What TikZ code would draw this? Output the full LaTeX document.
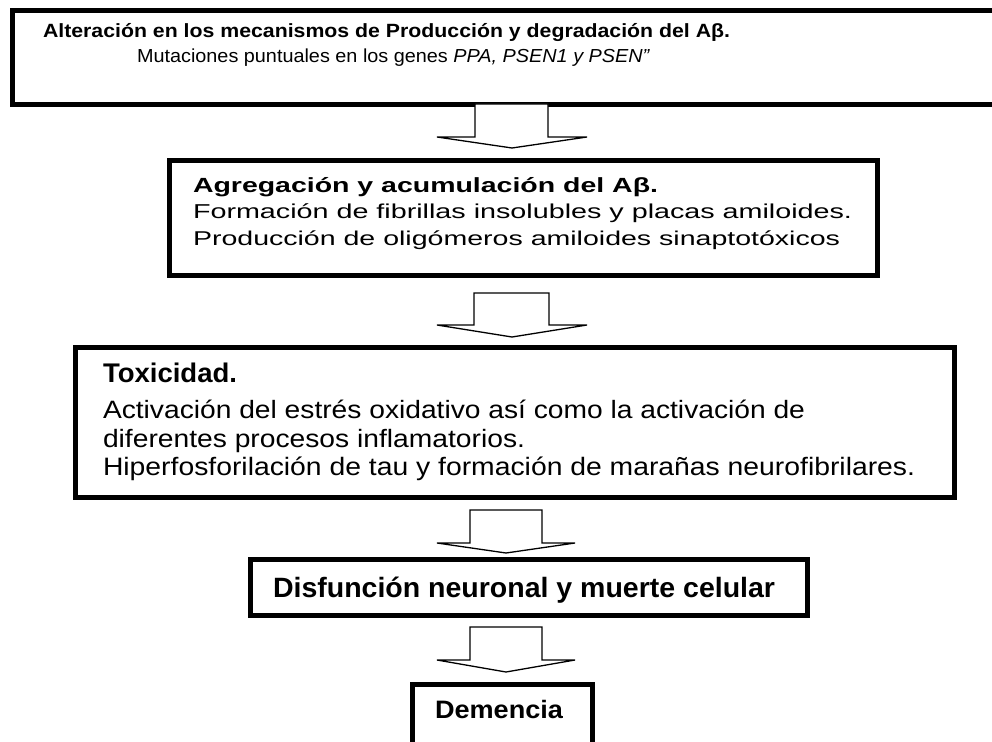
\documentclass[tikz,border=0pt]{standalone}
\usepackage{graphicx}
\usepackage{fontspec}
\setmainfont{Liberation Sans}
\newcommand{\fitline}[3]{\scalebox{1}[#2]{\resizebox{#1}{!}{#3}}}
\begin{document}
\begin{tikzpicture}[x=1pt,y=-1pt,
  box/.style={draw=black,line width=5.5pt,fill=white,rectangle,inner sep=0pt},
  txt/.style={anchor=base west,inner sep=0pt,outer sep=0pt},
  blockarrow/.style={draw=black,line width=1.3pt,fill=white,line join=miter}]
\useasboundingbox (0,0) rectangle (992,741);
\clip (0,0) rectangle (992,741);
\fill[white] (0,0) rectangle (992,741);
% boxes
\node[box,minimum width=987.5pt,minimum height=94pt] (b1) at (506.25,57.5) {};
\node[box,minimum width=708pt,minimum height=115pt] (b2) at (523.5,218) {};
\node[box,minimum width=879pt,minimum height=150pt] (b3) at (515,422.5) {};
\node[box,minimum width=557pt,minimum height=56pt] (b4) at (529,587.5) {};
\node[box,minimum width=180pt,minimum height=85.5pt] (b5) at (502.5,727.25) {};
% block arrows
\draw[blockarrow] (475,104) -- (548,104) -- (548,137) -- (587,137) -- (512,148) -- (437,137) -- (475,137) -- cycle;
\draw[blockarrow] (474,293) -- (549,293) -- (549,325) -- (587,325) -- (512,337) -- (437,325) -- (474,325) -- cycle;
\draw[blockarrow] (470,510) -- (542,510) -- (542,543) -- (575,543) -- (506,553) -- (437,543) -- (470,543) -- cycle;
\draw[blockarrow] (470,627) -- (542,627) -- (542,660) -- (575,660) -- (506,672) -- (437,660) -- (470,660) -- cycle;
% texts
\node[txt] (t1a) at (43,38) {\fitline{687pt}{0.9}{\bfseries Alteración en los mecanismos de Producción y degradación del Aβ.}};
\node[txt] (t1b) at (137,63) {\fitline{513pt}{0.95}{Mutaciones puntuales en los genes \textit{PPA, PSEN1 y PSEN"}}};
\node[txt] (t2a) at (193,192) {\fitline{465pt}{0.72}{\bfseries Agregación y acumulación del Aβ.}};
\node[txt] (t2b) at (193,218) {\fitline{659pt}{0.7}{Formación de fibrillas insolubles y placas amiloides.}};
\node[txt] (t2c) at (193,245) {\fitline{647pt}{0.7}{Producción de oligómeros amiloides sinaptotóxicos}};
\node[txt] (t3a) at (103,382) {\fitline{134pt}{0.98}{\bfseries Toxicidad.}};
\node[txt] (t3b) at (103,418) {\fitline{702pt}{0.89}{Activación del estrés oxidativo así como la activación de}};
\node[txt] (t3c) at (103,447) {\fitline{422pt}{0.89}{diferentes procesos inflamatorios.}};
\node[txt] (t3d) at (103,475) {\fitline{812pt}{0.89}{Hiperfosforilación de tau y formación de marañas neurofibrilares.}};
\node[txt] (t4) at (273,597) {\fitline{502pt}{0.98}{\bfseries Disfunción neuronal y muerte celular}};
\node[txt] (t5) at (435,718) {\fitline{128pt}{0.93}{\bfseries Demencia}};
\end{tikzpicture}
\end{document}
